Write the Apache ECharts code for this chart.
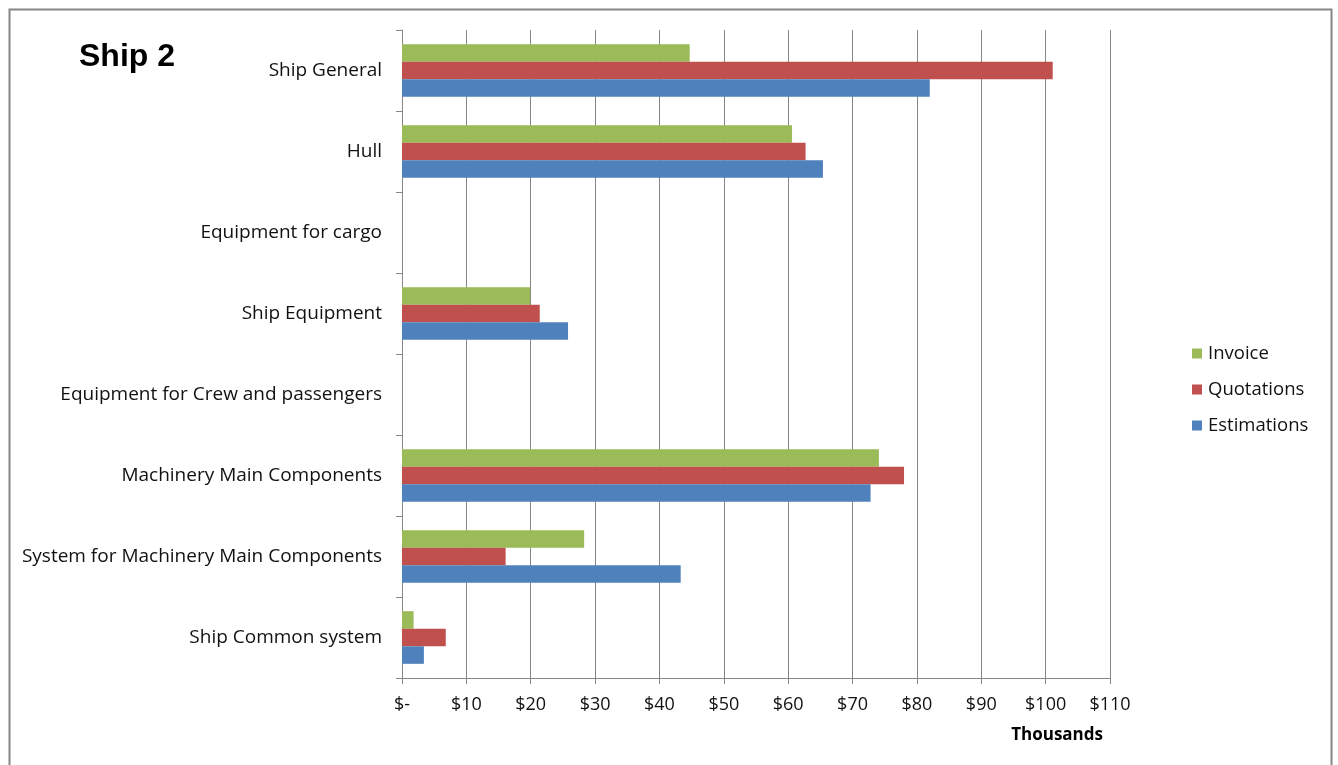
<!DOCTYPE html>
<html><head><meta charset="utf-8">
<script src="https://cdn.jsdelivr.net/npm/echarts@6/dist/echarts.min.js"></script>
<style>html,body{margin:0;padding:0;background:#fff}#c{width:1338px;height:765px}</style>
</head><body><div id="c"></div>
<script>
const categories = ['Ship General','Hull','Equipment for cargo','Ship Equipment','Equipment for Crew and passengers','Machinery Main Components','System for Machinery Main Components','Ship Common system'];
const invoice     = [44.7, 60.6, 0, 19.9, 0, 74.1, 28.3, 1.8];
const quotations  = [101.1, 62.7, 0, 21.4, 0, 78.0, 16.1, 6.8];
const estimations = [82.0, 65.4, 0, 25.8, 0, 72.8, 43.3, 3.4];
const seriesNames = ['Invoice','Quotations','Estimations'];
const colors = ['#9BBB59','#C0504D','#4F81BD'];
const FONT = 'Open Sans';

const chart = echarts.init(document.getElementById('c'));
const mk = (name, data, color) => ({
  name, type: 'bar', data, barGap: '0%', barCategoryGap: '35%',
  itemStyle: { color }
});
chart.setOption({
  animation: false,
  textStyle: { fontFamily: FONT },
  title: { text: 'Ship 2', left: 74, top: 36, textStyle: { fontSize: 32, fontWeight: 'bold', color: '#000', fontFamily: 'Liberation Sans' } },
  legend: {
    orient: 'vertical', left: 1187, top: 339, itemWidth: 10, itemHeight: 10, itemGap: 17,
    icon: 'rect', data: seriesNames,
    textStyle: { fontSize: 18.5, color: '#111', fontFamily: FONT, padding: [0,0,0,1] }
  },
  grid: { left: 402, right: 228, top: 30, bottom: 87, containLabel: false },
  xAxis: {
    type: 'value', min: 0, max: 110, interval: 10,
    axisLine: { show: true, lineStyle: { color: '#868686' } },
    axisTick: { show: true, length: 6, lineStyle: { color: '#868686' } },
    splitLine: { show: true, lineStyle: { color: '#868686' } },
    axisLabel: { fontSize: 18, color: '#111', margin: 18, fontFamily: FONT,
      formatter: v => v === 0 ? '$-' : '$' + v }
  },
  yAxis: {
    type: 'category', data: categories, inverse: true,
    axisLine: { show: true, lineStyle: { color: '#868686' } },
    axisTick: { show: true, length: 6, lineStyle: { color: '#868686' } },
    axisLabel: { fontSize: 19, color: '#111', margin: 20, fontFamily: FONT, padding: [4,0,0,0] }
  },
  series: [mk(seriesNames[0], invoice, colors[0]), mk(seriesNames[1], quotations, colors[1]), mk(seriesNames[2], estimations, colors[2])],
  graphic: [
    { type: 'rect', shape: { x: 9.5, y: 9.5, width: 1322, height: 800 }, style: { fill: 'none', stroke: '#868686', lineWidth: 2 }, silent: true },
    { type: 'text', right: 235, top: 727, style: { text: 'Thousands', font: 'bold 17px "Open Sans"', fill: '#000' } }
  ]
});
</script></body></html>
